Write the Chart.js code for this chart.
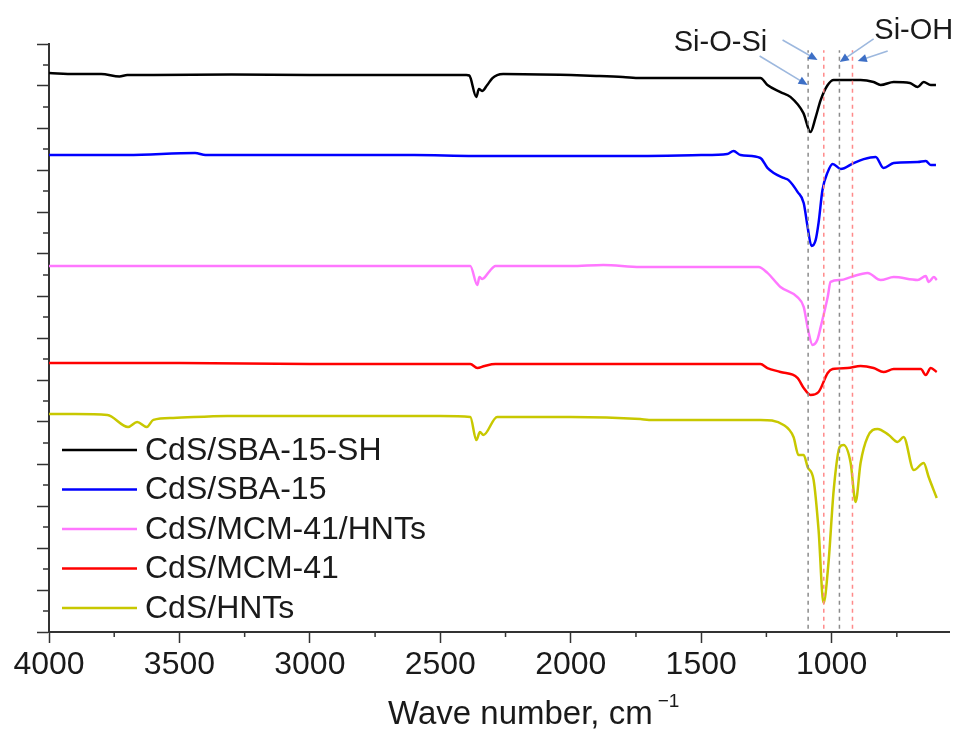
<!DOCTYPE html>
<html>
<head>
<meta charset="utf-8">
<script src="https://cdn.jsdelivr.net/npm/chart.js@4.4.1/dist/chart.umd.min.js"></script>
<style>
  html, body { margin: 0; padding: 0; background: #fff; }
  #wrap { width: 956px; height: 729px; position: relative; }
</style>
</head>
<body>
<div id="wrap"><canvas id="ftirChart"></canvas></div>
<script>
const FONT = '"Liberation Sans", Arial, sans-serif';

// sample names and colours
const seriesNames = ["CdS/SBA-15-SH", "CdS/SBA-15", "CdS/MCM-41/HNTs", "CdS/MCM-41", "CdS/HNTs"];
const seriesColors = ["#000000", "#0000ff", "#ff77ff", "#ff0000", "#c8c800"];

// spectra (wave number, offset transmittance a.u.)
const sbaShWave = [4000, 3900, 3800, 3730, 3700, 3600, 3300, 3000, 2700, 2400, 2389, 2362, 2352, 2340, 2320, 2300, 2282, 2259, 2000, 1900, 1800, 1733, 1500, 1273, 1246, 1196, 1158, 1108, 1081, 1061, 1042, 1015, 992, 939, 889, 839, 812, 762, 700, 670, 647, 620, 600];
const sbaShVal = [26.62, 26.57, 26.57, 26.45, 26.52, 26.52, 26.55, 26.52, 26.52, 26.52, 26.50, 25.48, 25.86, 25.76, 26.05, 26.38, 26.52, 26.57, 26.52, 26.48, 26.43, 26.38, 26.38, 26.38, 26.05, 25.71, 25.48, 24.71, 23.81, 24.52, 25.33, 26.05, 26.29, 26.29, 26.29, 26.19, 26.05, 26.19, 26.14, 25.95, 26.19, 26.05, 26.05];

const sbaWave = [4000, 3700, 3440, 3400, 3000, 2600, 2370, 2000, 1733, 1500, 1400, 1376, 1349, 1273, 1246, 1222, 1184, 1165, 1130, 1107, 1092, 1077, 1061, 1050, 1035, 1015, 996, 965, 916, 877, 831, 801, 762, 670, 639, 620, 600];
const sbaVal = [22.71, 22.71, 22.81, 22.71, 22.71, 22.71, 22.67, 22.67, 22.67, 22.71, 22.76, 22.90, 22.71, 22.57, 22.10, 21.86, 21.62, 21.52, 20.95, 20.43, 19.29, 18.38, 18.67, 19.48, 21.05, 21.90, 22.29, 22.05, 22.33, 22.52, 22.62, 22.10, 22.33, 22.38, 22.43, 22.24, 22.24];

const mcmHntWave = [4000, 3700, 3400, 3000, 2700, 2385, 2358, 2350, 2339, 2310, 2289, 2000, 1875, 1733, 1500, 1280, 1246, 1196, 1131, 1107, 1090, 1073, 1055, 1042, 1015, 1004, 965, 927, 862, 812, 762, 670, 639, 628, 608, 597];
const mcmHntVal = [17.43, 17.43, 17.43, 17.43, 17.43, 17.43, 16.52, 16.90, 16.81, 17.20, 17.43, 17.43, 17.48, 17.38, 17.38, 17.38, 17.10, 16.43, 15.95, 15.48, 14.38, 13.67, 13.90, 14.52, 15.95, 16.67, 16.76, 16.90, 17.10, 16.76, 16.90, 16.76, 16.95, 16.67, 16.90, 16.76];

const mcmWave = [4000, 3500, 3000, 2600, 2385, 2358, 2330, 2289, 2000, 1733, 1273, 1246, 1196, 1131, 1107, 1081, 1050, 1015, 996, 939, 889, 839, 801, 762, 658, 639, 620, 597];
const mcmVal = [12.81, 12.81, 12.76, 12.76, 12.76, 12.57, 12.67, 12.76, 12.76, 12.76, 12.76, 12.57, 12.38, 12.10, 11.62, 11.29, 11.43, 12.33, 12.52, 12.57, 12.67, 12.57, 12.38, 12.52, 12.52, 12.24, 12.57, 12.38];

const hntWave = [4000, 3900, 3776, 3697, 3662, 3625, 3600, 3524, 3317, 3141, 2500, 2385, 2362, 2348, 2335, 2282, 2000, 1733, 1700, 1606, 1273, 1184, 1146, 1127, 1107, 1092, 1069, 1050, 1031, 1012, 992, 969, 954, 927, 908, 889, 862, 824, 781, 747, 724, 685, 647, 628, 597];
const hntVal = [10.38, 10.38, 10.33, 9.76, 10.00, 9.76, 10.10, 10.19, 10.29, 10.29, 10.29, 10.24, 9.14, 9.52, 9.38, 10.24, 10.24, 10.14, 10.10, 10.10, 10.10, 9.86, 9.29, 8.43, 8.43, 7.86, 7.24, 4.86, 1.38, 3.29, 6.76, 8.81, 8.90, 8.05, 6.19, 8.05, 9.29, 9.67, 9.38, 9.05, 9.29, 7.71, 8.05, 7.38, 6.38];

// dashed marker lines (Si-O-Si / Si-OH bands)
const guideWave = [1090, 1030, 970, 920];
const guideColors = ["#8c8c8c", "#ff8a8a", "#8c8c8c", "#ff8a8a"];
const guideRange = [0.15, 27.7];

// axis ticks
const xMajorTicks = [4000, 3500, 3000, 2500, 2000, 1500, 1000];
const xMinorTicks = [3750, 3250, 2750, 2250, 1750, 1250, 750];
const yMajorTicks = [0, 2, 4, 6, 8, 10, 12, 14, 16, 18, 20, 22, 24, 26, 28];
const yMinorTicks = [1, 3, 5, 7, 9, 11, 13, 15, 17, 19, 21, 23, 25, 27];

// annotation arrows: [fromWave, fromY, toWave, toY]
const arrows = [
  [1188, 28.19, 1054, 27.24],
  [1276, 27.43, 1092, 26.05],
  [839, 28.24, 969, 27.14],
  [785, 27.67, 900, 27.19]
];
const bandLabels = [
  { text: "Si-O-Si", wave: 1426, y: 27.67 },
  { text: "Si-OH", wave: 685, y: 28.24 }
];

function toPoints(wave, val) {
  return wave.map((w, i) => ({ x: w, y: val[i] }));
}

const spectra = [
  toPoints(sbaShWave, sbaShVal),
  toPoints(sbaWave, sbaVal),
  toPoints(mcmHntWave, mcmHntVal),
  toPoints(mcmWave, mcmVal),
  toPoints(hntWave, hntVal)
];

const datasets = spectra.map((pts, i) => ({
  label: seriesNames[i],
  data: pts,
  borderColor: seriesColors[i],
  borderWidth: 2.5,
  pointRadius: 0,
  cubicInterpolationMode: "monotone",
  fill: false
}));

guideWave.forEach((w, i) => {
  datasets.push({
    label: "",
    data: [{ x: w, y: guideRange[0] }, { x: w, y: guideRange[1] }],
    borderColor: guideColors[i],
    borderWidth: 1.5,
    borderDash: [4, 4],
    pointRadius: 0,
    tension: 0,
    order: -1
  });
});

function drawArrow(ctx, x1, y1, x2, y2) {
  const ang = Math.atan2(y2 - y1, x2 - x1);
  const head = 10;
  ctx.strokeStyle = "#9db8de";
  ctx.lineWidth = 1.6;
  ctx.beginPath();
  ctx.moveTo(x1, y1);
  ctx.lineTo(x2 - Math.cos(ang) * head * 0.8, y2 - Math.sin(ang) * head * 0.8);
  ctx.stroke();
  ctx.fillStyle = "#3d6fc6";
  ctx.beginPath();
  ctx.moveTo(x2, y2);
  ctx.lineTo(x2 - head * Math.cos(ang - 0.42), y2 - head * Math.sin(ang - 0.42));
  ctx.lineTo(x2 - head * Math.cos(ang + 0.42), y2 - head * Math.sin(ang + 0.42));
  ctx.closePath();
  ctx.fill();
}

const overlayPlugin = {
  id: "overlay",
  afterDraw(chart) {
    const { ctx, chartArea, scales } = chart;
    const x = scales.x;
    const y = scales.y;
    ctx.save();

    // minor ticks
    ctx.strokeStyle = "#333";
    ctx.lineWidth = 1.5;
    xMinorTicks.forEach((w) => {
      const px = x.getPixelForValue(w);
      ctx.beginPath();
      ctx.moveTo(px, chartArea.bottom);
      ctx.lineTo(px, chartArea.bottom + 5);
      ctx.stroke();
    });
    yMinorTicks.forEach((v) => {
      const py = y.getPixelForValue(v);
      ctx.beginPath();
      ctx.moveTo(chartArea.left, py);
      ctx.lineTo(chartArea.left - 6, py);
      ctx.stroke();
    });

    // legend
    ctx.font = "32px " + FONT;
    ctx.textBaseline = "middle";
    ctx.textAlign = "left";
    seriesNames.forEach((name, i) => {
      const ly = chartArea.top + 406 + i * 39.5;
      ctx.strokeStyle = seriesColors[i];
      ctx.lineWidth = 2.5;
      ctx.beginPath();
      ctx.moveTo(chartArea.left + 13, ly);
      ctx.lineTo(chartArea.left + 88, ly);
      ctx.stroke();
      ctx.fillStyle = "#1a1a1a";
      ctx.fillText(name, chartArea.left + 96, ly + 1);
    });

    // arrows and band labels
    arrows.forEach((a) => {
      drawArrow(ctx, x.getPixelForValue(a[0]), y.getPixelForValue(a[1]),
        x.getPixelForValue(a[2]), y.getPixelForValue(a[3]));
    });
    ctx.font = "29px " + FONT;
    ctx.textAlign = "center";
    ctx.textBaseline = "alphabetic";
    ctx.fillStyle = "#1a1a1a";
    bandLabels.forEach((b) => {
      ctx.fillText(b.text, x.getPixelForValue(b.wave), y.getPixelForValue(b.y));
    });

    // x axis title with superscript
    ctx.textAlign = "left";
    ctx.font = "33px " + FONT;
    const title = "Wave number, cm";
    const tx = 388;
    ctx.fillText(title, tx, 724);
    const tw = ctx.measureText(title).width;
    ctx.font = "19px " + FONT;
    ctx.fillText("\u22121", tx + tw + 5, 707);

    ctx.restore();
  }
};

const ftirCtx = document.getElementById("ftirChart").getContext("2d");
const ftirChart = new Chart(ftirCtx, {
  type: "line",
  data: { datasets: datasets },
  options: {
    responsive: true,
    maintainAspectRatio: false,
    animation: false,
    layout: { padding: { top: 44, right: 7, left: 0, bottom: 0 } },
    plugins: {
      legend: { display: false },
      tooltip: { enabled: false }
    },
    scales: {
      x: {
        type: "linear",
        reverse: true,
        min: 550,
        max: 4000,
        border: { color: "#333", width: 2 },
        grid: { drawOnChartArea: false, drawTicks: true, tickLength: 11, tickColor: "#333", tickWidth: 1.5 },
        ticks: {
          autoSkip: false,
          maxRotation: 0,
          padding: 3,
          color: "#1a1a1a",
          font: { family: FONT, size: 32 },
          callback: (v) => String(v)
        },
        afterBuildTicks(scale) {
          scale.ticks = xMajorTicks.map((v) => ({ value: v }));
        },
        afterFit(scale) { scale.height = 97; }
      },
      y: {
        type: "linear",
        min: 0,
        max: 28,
        border: { color: "#333", width: 2 },
        grid: { drawOnChartArea: false, drawTicks: true, tickLength: 12, tickColor: "#333", tickWidth: 1.5 },
        ticks: { display: false },
        afterBuildTicks(scale) {
          scale.ticks = yMajorTicks.map((v) => ({ value: v }));
        },
        afterFit(scale) { scale.width = 49; }
      }
    }
  },
  plugins: [overlayPlugin]
});
</script>
</body>
</html>
